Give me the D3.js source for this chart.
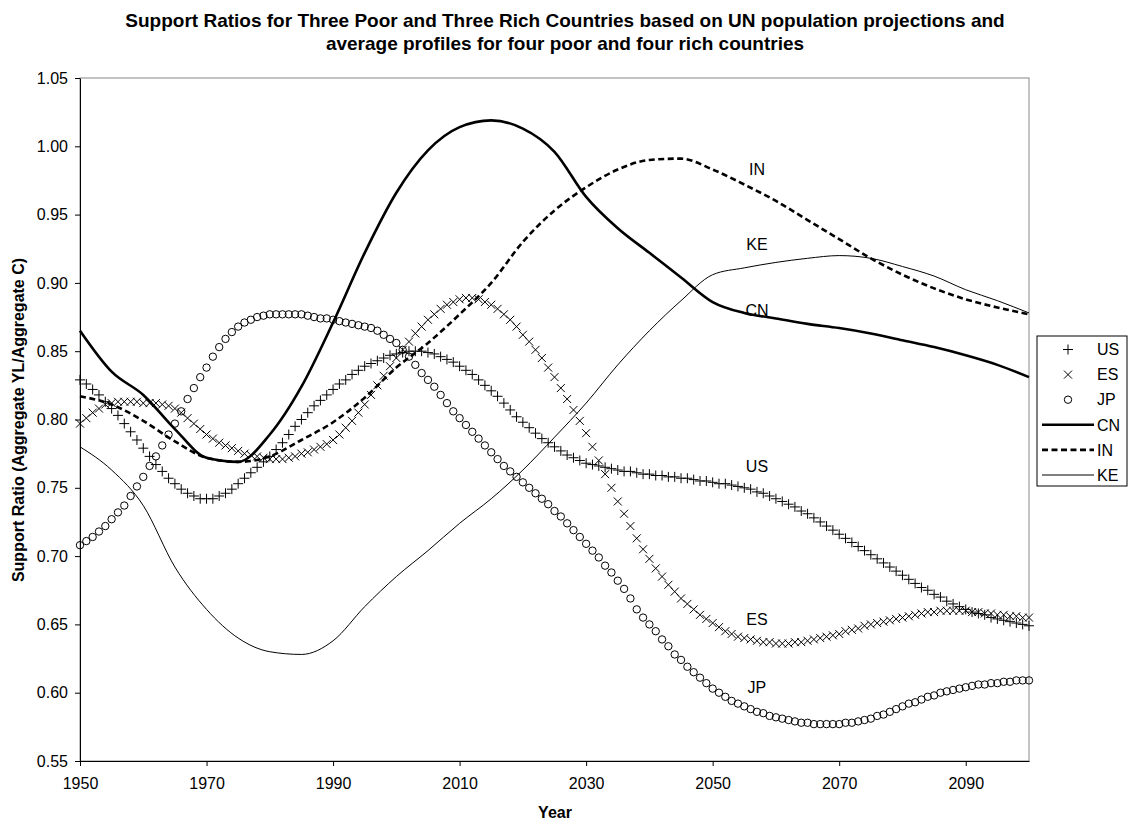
<!DOCTYPE html>
<html><head><meta charset="utf-8">
<script src="https://cdn.jsdelivr.net/npm/d3@7"></script>
<style>body{margin:0;background:#fff;} svg{display:block;font-family:"Liberation Sans",Arial,sans-serif;}</style>
</head><body>
<svg id="c" width="1130" height="825"></svg>
<script>
const titleLines = ["Support Ratios for Three Poor and Three Rich Countries based on UN population projections and","average profiles for four poor and four rich countries"];
const xTicks = [1950,1970,1990,2010,2030,2050,2070,2090];
const yTicks = [0.55,0.60,0.65,0.70,0.75,0.80,0.85,0.90,0.95,1.00,1.05];
const markerYears = d3.range(1950, 2101);
const lineYears = [1950,1955,1960,1965,1970,1975,1980,1985,1990,1995,2000,2005,2010,2015,2020,2025,2030,2035,2040,2045,2050,2055,2060,2065,2070,2075,2080,2085,2090,2095,2100];
const US = [.829,.826,.822,.818,.813,.808,.803,.797,.791,.785,.779,.773,.767,.762,.757,.753,.749,.746,.744,.742,.742,.742,.744,.746,.749,.753,.757,.761,.765,.769,.773,.778,.783,.789,.795,.800,.805,.810,.814,.818,.822,.826,.829,.833,.836,.839,.841,.843,.845,.847,.848,.849,.850,.850,.850,.849,.848,.846,.844,.842,.839,.836,.833,.829,.825,.821,.817,.812,.807,.802,.798,.794,.790,.786,.783,.780,.777,.774,.772,.770,.768,.767,.766,.765,.764,.763,.762,.762,.761,.760,.760,.759,.759,.758,.758,.757,.757,.756,.755,.755,.754,.753,.753,.752,.751,.750,.749,.747,.746,.744,.742,.740,.738,.736,.733,.731,.728,.725,.722,.719,.716,.713,.710,.707,.704,.701,.698,.695,.692,.689,.686,.683,.680,.677,.675,.672,.670,.667,.665,.663,.661,.659,.658,.657,.655,.654,.653,.652,.651,.650,.649];
const ES = [.797,.801,.805,.808,.811,.812,.813,.813,.813,.813,.812,.812,.812,.811,.810,.808,.805,.801,.797,.793,.789,.786,.783,.781,.779,.777,.775,.774,.773,.772,.771,.771,.771,.772,.773,.775,.776,.778,.780,.782,.785,.789,.794,.799,.805,.811,.818,.825,.832,.839,.845,.851,.857,.863,.868,.873,.877,.881,.884,.886,.888,.889,.889,.888,.886,.884,.881,.877,.873,.868,.862,.857,.851,.845,.838,.831,.823,.815,.807,.799,.790,.780,.770,.760,.750,.740,.731,.722,.713,.705,.698,.691,.685,.679,.674,.669,.665,.661,.657,.654,.651,.648,.645,.643,.641,.640,.639,.638,.637,.637,.636,.636,.636,.637,.637,.638,.639,.640,.641,.642,.643,.645,.646,.647,.649,.650,.651,.652,.653,.654,.655,.656,.657,.658,.659,.659,.660,.660,.660,.660,.660,.659,.659,.658,.658,.657,.657,.656,.656,.655,.655];
const JP = [.708,.711,.714,.718,.722,.727,.732,.737,.744,.751,.758,.766,.773,.781,.789,.797,.806,.815,.823,.831,.838,.846,.853,.859,.864,.868,.871,.873,.875,.876,.877,.877,.877,.877,.877,.877,.876,.875,.874,.874,.873,.872,.871,.870,.869,.868,.867,.865,.862,.859,.856,.851,.846,.840,.834,.829,.824,.818,.812,.806,.801,.796,.791,.786,.781,.776,.771,.766,.762,.758,.754,.750,.746,.742,.738,.733,.729,.724,.719,.714,.709,.704,.699,.693,.688,.682,.676,.669,.661,.655,.650,.645,.639,.634,.628,.624,.619,.615,.611,.607,.603,.600,.597,.594,.592,.590,.588,.586,.585,.583,.582,.581,.580,.579,.578,.578,.577,.577,.577,.577,.577,.578,.578,.579,.580,.581,.583,.584,.586,.588,.590,.592,.593,.595,.597,.598,.600,.601,.602,.603,.604,.605,.606,.606,.607,.607,.608,.608,.609,.609,.609];
const CN = [.865,.835,.818,.793,.772,.769,.789,.824,.871,.922,.966,.997,1.014,1.019,1.013,.996,.963,.940,.922,.904,.886,.878,.874,.870,.867,.863,.858,.853,.847,.840,.831];
const IN = [.817,.811,.799,.784,.772,.769,.773,.785,.798,.816,.838,.856,.877,.900,.930,.953,.970,.983,.990,.991,.983,.972,.960,.946,.932,.918,.906,.896,.888,.882,.877];
const KE = [.780,.763,.737,.692,.661,.640,.630,.628,.638,.663,.685,.704,.724,.742,.763,.787,.812,.840,.865,.887,.906,.911,.915,.918,.920,.918,.912,.905,.895,.887,.878];
const markerSeries = [{name:"US",vals:US,sym:"plus"},{name:"ES",vals:ES,sym:"cross"},{name:"JP",vals:JP,sym:"circle"}];
const lineSeries = [{name:"CN",vals:CN,w:2.6,dash:null},{name:"IN",vals:IN,w:2.6,dash:"6,3.5"},{name:"KE",vals:KE,w:1,dash:null}];
const inlineLabels = [{t:"IN",year:2057,v:0.983},{t:"KE",year:2057,v:0.928},{t:"CN",year:2057,v:0.880},{t:"US",year:2057,v:0.766},{t:"ES",year:2057,v:0.654},{t:"JP",year:2057,v:0.604}];

const svg = d3.select("#c");
const L=80,R=1029,T=78,B=761;
const x = d3.scaleLinear().domain([1950,2100]).range([L,R]);
const y = d3.scaleLinear().domain([0.55,1.05]).range([B,T]);

svg.selectAll("text.title").data(titleLines).enter().append("text")
  .attr("x",565).attr("y",(d,i)=>27+i*23).attr("text-anchor","middle")
  .style("font-size","19px").style("font-weight","bold").text(d=>d);

svg.append("rect").attr("x",L).attr("y",T).attr("width",R-L).attr("height",B-T).attr("fill","none").attr("stroke","#888").attr("stroke-width",1);

svg.append("clipPath").attr("id","pc").append("rect").attr("x",L-6).attr("y",T-6).attr("width",R-L+12).attr("height",B-T+12);
const g = svg.append("g").attr("clip-path","url(#pc)");

const line = d3.line().x((d,i)=>x(lineYears[i])).y(d=>y(d)).curve(d3.curveMonotoneX);
lineSeries.forEach(s=>{
  g.append("path").attr("d",line(s.vals)).attr("fill","none").attr("stroke","#000")
   .attr("stroke-width",s.w).attr("stroke-dasharray",s.dash);
});

function drawSym(sel, sym, cx, cy){
  if(sym==="circle"){
    sel.append("circle").attr("cx",cx).attr("cy",cy).attr("r",3.7).attr("fill","none").attr("stroke","#000").attr("stroke-width",1);
  } else if(sym==="plus"){
    const s=5;
    sel.append("path").attr("d",`M${cx-s},${cy}H${cx+s}M${cx},${cy-s}V${cy+s}`).attr("stroke","#000").attr("stroke-width",1).attr("fill","none");
  } else {
    const s=4;
    sel.append("path").attr("d",`M${cx-s},${cy-s}L${cx+s},${cy+s}M${cx-s},${cy+s}L${cx+s},${cy-s}`).attr("stroke","#000").attr("stroke-width",1).attr("fill","none");
  }
}
markerSeries.forEach(s=>{
  const gg = g.append("g");
  s.vals.forEach((v,i)=>drawSym(gg,s.sym,x(markerYears[i]),y(v)));
});

const xAxis = d3.axisBottom(x).tickValues(xTicks).tickFormat(d3.format("d")).tickSize(5).tickSizeOuter(0);
const yAxis = d3.axisLeft(y).tickValues(yTicks).tickFormat(d3.format(".2f")).tickSize(5).tickSizeOuter(0);
const gx = svg.append("g").attr("transform",`translate(0,${B})`).call(xAxis);
const gy = svg.append("g").attr("transform",`translate(${L},0)`).call(yAxis);
[gx,gy].forEach(a=>{a.select(".domain").attr("stroke","#000");a.selectAll("text").style("font-size","16px").attr("fill","#000").style("font-family","Liberation Sans, Arial, sans-serif");a.selectAll("line").attr("stroke","#000");});
gx.selectAll("text").attr("y",0).attr("dy",0).attr("transform","translate(0,28)");
gy.selectAll("text").attr("x",-12);

svg.append("text").attr("x",555).attr("y",818).attr("text-anchor","middle").style("font-size","16px").style("font-weight","bold").text("Year");
svg.append("text").attr("transform","translate(24,420) rotate(-90)").attr("text-anchor","middle").style("font-size","16px").style("font-weight","bold").text("Support Ratio (Aggregate YL/Aggregate C)");

svg.selectAll("text.lab").data(inlineLabels).enter().append("text")
 .attr("x",d=>x(d.year)).attr("y",d=>y(d.v)).attr("dy","0.36em").attr("text-anchor","middle").style("font-size","16px").text(d=>d.t);

const lg = svg.append("g");
const LX=1037, LY=336, LW=90, LH=150;
lg.append("rect").attr("x",LX).attr("y",LY).attr("width",LW).attr("height",LH).attr("fill","#fff").attr("stroke","#000").attr("stroke-width",1);
const legItems = markerSeries.map(s=>({name:s.name,type:"m",sym:s.sym})).concat(lineSeries.map(s=>({name:s.name,type:"l",w:s.w,dash:s.dash})));
legItems.forEach((it,i)=>{
  const cy = LY+13.5+i*25.1;
  if(it.type==="m") drawSym(lg,it.sym,LX+31,cy);
  else lg.append("line").attr("x1",LX+5).attr("x2",LX+57).attr("y1",cy).attr("y2",cy).attr("stroke","#000").attr("stroke-width",it.w).attr("stroke-dasharray",it.dash);
  lg.append("text").attr("x",LX+60).attr("y",cy).attr("dy","0.36em").style("font-size","16px").text(it.name);
});
</script>
</body></html>
